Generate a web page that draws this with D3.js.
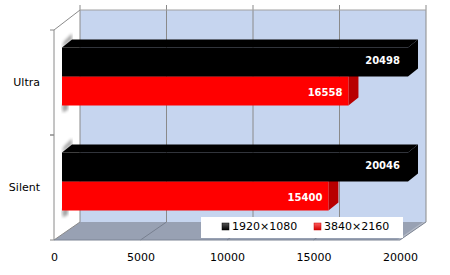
<!DOCTYPE html>
<html><head><meta charset="utf-8">
<script src="https://cdn.jsdelivr.net/npm/d3@7"></script>
<style>html,body{margin:0;padding:0;background:#fff;}svg{display:block;font-family:"DejaVu Sans",Verdana,sans-serif;}</style>
</head><body>
<svg id="c" width="450" height="275"></svg>
<script>
const categories = ["Ultra", "Silent"];
const seriesNames = ["1920×1080", "3840×2160"];
const values1920 = [20498, 20046];
const values3840 = [16558, 15400];
const xTicks = [0, 5000, 10000, 15000, 20000];
const seriesColors = ["#000000", "#ff0000"];
const sideColors = ["#000000", "#b80000"];

const svg = d3.select("#c");
const defs = svg.append("defs");
defs.append("filter").attr("id","blur").append("feGaussianBlur").attr("stdDeviation",1.6);
const lg0 = defs.append("linearGradient").attr("id","mk0").attr("x1",0).attr("y1",0).attr("x2",0).attr("y2",1);
lg0.append("stop").attr("offset","0").attr("stop-color","#555");
lg0.append("stop").attr("offset","1").attr("stop-color","#000");
const lg1 = defs.append("linearGradient").attr("id","mk1").attr("x1",0).attr("y1",0).attr("x2",0).attr("y2",1);
lg1.append("stop").attr("offset","0").attr("stop-color","#ff6060");
lg1.append("stop").attr("offset","1").attr("stop-color","#d00000");

// geometry
const frontTop = 30, frontBottom = 240;
const wallDX = 26, wallTopDY = -20, floorDY = -18;
const barDX = 8, barDY = -6, depthDX = 10, depthDY = -8;

const x = d3.scaleLinear().domain([0, 20000]).range([54, 400]);
const y0 = d3.scaleBand().domain(categories).range([frontTop, frontBottom]).padding(0);
const y1 = d3.scaleBand().domain(seriesNames).range([0, y0.bandwidth()]).paddingInner(0).paddingOuter(0.81);

const backTop = frontTop + wallTopDY, backBottom = frontBottom + floorDY;
const x0 = x(0), xMax = x(20000);

// back wall
svg.append("rect").attr("x", x0 + wallDX).attr("y", backTop)
  .attr("width", xMax - x0).attr("height", backBottom - backTop)
  .attr("fill", "#c6d5ef");
// floor
svg.append("polygon").attr("points", [
  [x0, frontBottom], [xMax, frontBottom], [xMax + wallDX, backBottom], [x0 + wallDX, backBottom]
].map(p => p.join(",")).join(" ")).attr("fill", "#98a1b3");
svg.append("polygon").attr("points", [
  [xMax - 3, frontBottom], [xMax, frontBottom], [xMax + wallDX, backBottom], [xMax + wallDX - 3, backBottom]
].map(p => p.join(",")).join(" ")).attr("fill", "#b4bac6");

const gridC = "#8a8a8a";
// gridlines on back wall and floor
xTicks.forEach(v => {
  svg.append("line").attr("x1", x(v) + wallDX).attr("x2", x(v) + wallDX)
    .attr("y1", backTop - 5).attr("y2", backBottom).attr("stroke", gridC).attr("stroke-width", 1);
  if (v > 0) svg.append("line").attr("x1", x(v) + wallDX).attr("y1", backBottom)
    .attr("x2", x(v)).attr("y2", frontBottom).attr("stroke", "#6f7685").attr("stroke-width", 0.8);
});
svg.append("line").attr("x1", x0 + wallDX).attr("x2", xMax + wallDX).attr("y1", backTop).attr("y2", backTop)
  .attr("stroke", "#a0a0a0");
// left wall edges
svg.append("line").attr("x1", x0).attr("y1", frontTop).attr("x2", x0 + wallDX).attr("y2", backTop).attr("stroke", gridC);
svg.append("line").attr("x1", x0).attr("y1", frontBottom).attr("x2", x0 + wallDX).attr("y2", backBottom).attr("stroke", gridC);
svg.append("line").attr("x1", x0).attr("y1", frontTop).attr("x2", x0).attr("y2", frontBottom).attr("stroke", gridC);
svg.append("line").attr("x1", x0).attr("y1", frontBottom).attr("x2", xMax).attr("y2", frontBottom).attr("stroke", "#7d8494");
// left ticks at band boundaries
categories.forEach(c => {
  [y0(c), y0(c) + y0.bandwidth()].forEach(yy => {
    svg.append("line").attr("x1", x0 - 4).attr("x2", x0).attr("y1", yy).attr("y2", yy).attr("stroke", gridC);
  });
});

// bars
const bars = svg.append("g");
const seriesValues = [values1920, values3840];
categories.forEach((c, ci) => {
  // shadows at left end
  const gTop = y0(c) + y1(seriesNames[0]) + barDY;
  const gBot = y0(c) + y1(seriesNames[1]) + y1.bandwidth() + barDY;
  const bx = x0 + barDX;
  bars.append("polygon").attr("points", [[bx, gTop], [bx + depthDX, gTop + depthDY], [bx + depthDX, gTop + depthDY - 6], [bx + 2, gTop - 6]]
    .map(p => p.join(",")).join(" ")).attr("fill", "#8c8c8c").attr("filter", "url(#blur)").attr("opacity", 0.8);
  bars.append("polygon").attr("points", [[bx, gBot], [bx + 6, gBot - 4], [bx + 6, gBot + 4], [bx + 1, gBot + 7]]
    .map(p => p.join(",")).join(" ")).attr("fill", "#8c8c8c").attr("filter", "url(#blur)").attr("opacity", 0.8);

  [1, 0].forEach(si => {
    const v = Math.min(seriesValues[si][ci], 20000);
    const top = y0(c) + y1(seriesNames[si]) + barDY;
    const h = y1.bandwidth();
    const left = x0 + barDX, right = x(v) + barDX;
    // top face
    bars.append("polygon").attr("points", [[left, top], [left + depthDX, top + depthDY], [right + depthDX, top + depthDY], [right, top]]
      .map(p => p.join(",")).join(" ")).attr("fill", seriesColors[si]);
    // side face
    bars.append("polygon").attr("points", [[right, top], [right + depthDX, top + depthDY], [right + depthDX, top + h + depthDY], [right, top + h]]
      .map(p => p.join(",")).join(" ")).attr("fill", sideColors[si]);
    // front face
    bars.append("rect").attr("x", left).attr("y", top).attr("width", right - left).attr("height", h)
      .attr("fill", seriesColors[si]);
    // value label
    bars.append("text").attr("x", right - (si === 0 ? 8 : 6)).attr("y", top + h / 2 + (si === 0 ? -2 : 1))
      .attr("dy", "0.36em").attr("text-anchor", "end").attr("fill", "#fff")
      .attr("font-size", "10px").attr("font-weight", "bold")
      .text(seriesValues[si][ci]);
  });
});

// category labels
const yAxis = svg.append("g").attr("transform", `translate(${x0},0)`)
  .call(d3.axisLeft(y0).tickSize(0).tickPadding(14));
yAxis.select(".domain").remove();
yAxis.selectAll("text").attr("font-size", "11px").attr("font-family", "DejaVu Sans, Verdana, sans-serif").attr("fill", "#000");

// x axis labels
const xAxis = svg.append("g").attr("transform", `translate(0,${frontBottom})`)
  .call(d3.axisBottom(x).tickValues(xTicks).tickFormat(d3.format("d")).tickSize(0).tickPadding(13));
xAxis.select(".domain").remove();
xAxis.selectAll("text").attr("font-size", "11px").attr("font-family", "DejaVu Sans, Verdana, sans-serif").attr("fill", "#000");

// legend
const leg = svg.append("g");
leg.append("rect").attr("x", 201).attr("y", 217).attr("width", 202).attr("height", 21).attr("fill", "#fff");
const legX = [222, 314];
seriesNames.forEach((s, i) => {
  leg.append("rect").attr("x", legX[i]).attr("y", 223).attr("width", 7).attr("height", 7)
    .attr("fill", `url(#mk${i})`).attr("stroke", i === 0 ? "#000" : "#c00").attr("stroke-width", 0.5);
  leg.append("text").attr("x", legX[i] + 10).attr("y", 226.5).attr("dy", "0.36em")
    .attr("font-size", "11px").attr("fill", "#000").text(s);
});
</script>
</body></html>
